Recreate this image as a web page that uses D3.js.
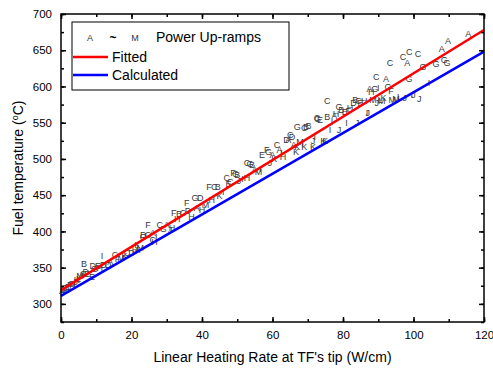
<!DOCTYPE html>
<html><head><meta charset="utf-8">
<script src="https://cdn.jsdelivr.net/npm/d3@7"></script>
<style>body{margin:0;background:#fff}svg{display:block;font-family:"Liberation Sans",Arial,sans-serif}</style>
</head><body><svg id="c" width="493" height="372"></svg>
<script>
const xTicks = [0,20,40,60,80,100,120];
const yTicks = [300,350,400,450,500,550,600,650,700];
const fitX = [0,120], fitY = [319,678];
const calcX = [0,120], calcY = [311,648];
const ptLetter = ["A","B","C","D","E","F","G","H","I","J","K","L","M","A","C","B","D","E","E","D","G","E","H","I","D","D","A","C","F","M","K","C","D","H","K","A","M","G","D","C","F","C","A","H","I","C","G","A","J","H","F","H","B","C","F","D","H","G","A","D","H","M","F","H","C","B","K","I","C","E","C","F","G","B","J","I","C","H","G","B","A","M","I","E","F","G","J","A","K","C","A","I","H","D","A","C","D","A","K","G","K","M","I","C","B","K","B","K","J","I","C","G","E","K","K","C","B","I","I","A","H","G","J","B","E","I","F","H","D","B","J","C","E","H","I","J","A","H","M","G","C","J","I","L","M","K","A","G","C","F","M","M","L","C","J","A","G","C","I","J","C","J","G","I","G","A","G","G","A","A"];
const ptX = [0.3,0.8,1.2,1.5,2,2.5,3,3.2,3.8,4.2,4.5,5,5.4,5.8,6.3,6.5,7,7.4,8.8,9,9.5,10.5,11,11.6,12,13.3,14,15.3,16,17,18,18.7,20,21,21.6,21.6,22.5,23.3,23.3,24.7,24.7,26,26,26.5,27,28,29,30,31,31.5,32,33,33.5,34.6,35.7,36,37,38,38.5,39.5,40,41,42,42.8,43.5,44.5,45,46,47,47.5,48,48.8,49.5,50,50.5,51.5,52.8,52.8,53.6,54.2,55,56,56.5,57,58.4,58.9,59.3,60,60.5,61.3,62,62.5,63,64,64.5,65,65.5,66,66.7,67,67,67.8,68.5,69,69.5,69,70.2,71.5,71.5,72,72.6,72.8,73.5,74.4,75,75.5,75.5,76.3,76.9,77.5,78,78.9,78.9,79.5,80.5,81,81.5,82,83,83.5,84,84.5,85,86,86.8,87,87.5,88,88.5,89,89.4,89.6,90,90.5,91,91.5,92.2,92.8,93.3,93.6,94,95,96,97,97.5,98.2,98.7,98.8,99.5,100,101.3,101.6,102.7,104.4,106.4,108,108.7,109.5,109.8,115.5];
const ptY = [318,320,322,319,324,326,328,325,330,331,333,335,338,340,342,355,344,341,337,352,349,353,350,366,354,354,358,367,362,364,366,370,370,375,381,374,378,392,395,395,409,388,398,386,392,409,404,409,402,405,425,418,424,425,439,428,420,446,432,446,430,436,461,443,461,461,449,455,474,466,468,481,480,478,470,472,494,474,493,492,485,482,487,505,512,510,494,506,500,519,512,508,503,526,527,533,530,520,510,544,517,523,521,543,544,517,545,517,525,530,557,556,554,525,525,580,558,540,551,560,562,572,540,568,565,550,567,570,578,582,550,580,577,580,563,563,597,592,582,597,613,577,598,582,580,584,610,599,632,594,582,583,585,641,584,632,610,648,588,588,645,583,627,605,631,652,637,632,663,672];

const svg = d3.select("#c");
const L=61, R=484, T=14, B=322;
const x = d3.scaleLinear().domain([0,120]).range([L,R]);
const y = d3.scaleLinear().domain([275,700]).range([B,T]);

// points
const pts = ptX.map((v,i)=>({x:v,y:ptY[i],l:ptLetter[i]}));
svg.append("g").selectAll("text").data(pts).join("text")
  .attr("x",d=>x(d.x)).attr("y",d=>y(d.y)).attr("dy","0.35em")
  .attr("text-anchor","middle").attr("font-size",9).attr("fill","#3a3a3a").text(d=>d.l);

// lines
const line = d3.line().x(d=>x(d[0])).y(d=>y(d[1]));
svg.append("path").datum(fitX.map((v,i)=>[v,fitY[i]])).attr("d",line).attr("stroke","#ff0000").attr("stroke-width",2.5).attr("fill","none");
svg.append("path").datum(calcX.map((v,i)=>[v,calcY[i]])).attr("d",line).attr("stroke","#0000ff").attr("stroke-width",2.5).attr("fill","none");

// axes
const minorX = d3.range(0,121,10), minorY = d3.range(275,701,25);
const ax = svg.append("g");
ax.append("g").attr("transform",`translate(0,${B})`).call(d3.axisBottom(x).tickValues(xTicks).tickSize(-5).tickPadding(9).tickFormat(d3.format("d")));
ax.append("g").attr("transform",`translate(0,${B})`).call(d3.axisBottom(x).tickValues(minorX).tickSize(-3).tickFormat(""));
ax.append("g").attr("transform",`translate(0,${T})`).call(d3.axisTop(x).tickValues(xTicks).tickSize(-5).tickFormat(""));
ax.append("g").attr("transform",`translate(0,${T})`).call(d3.axisTop(x).tickValues(minorX).tickSize(-3).tickFormat(""));
ax.append("g").attr("transform",`translate(${L},0)`).call(d3.axisLeft(y).tickValues(yTicks).tickSize(-5).tickPadding(9).tickFormat(d3.format("d")));
ax.append("g").attr("transform",`translate(${L},0)`).call(d3.axisLeft(y).tickValues(minorY).tickSize(-3).tickFormat(""));
ax.append("g").attr("transform",`translate(${R},0)`).call(d3.axisRight(y).tickValues(yTicks).tickSize(-5).tickFormat(""));
ax.append("g").attr("transform",`translate(${R},0)`).call(d3.axisRight(y).tickValues(minorY).tickSize(-3).tickFormat(""));
ax.selectAll(".domain").remove();
ax.selectAll("line").attr("stroke","#000").attr("stroke-width",1.5);
ax.selectAll("text").attr("font-size",11.5).attr("fill","#000").attr("font-family","Liberation Sans, Arial, sans-serif");
svg.append("rect").attr("x",L).attr("y",T).attr("width",R-L).attr("height",B-T).attr("fill","none").attr("stroke","#000").attr("stroke-width",1.5);

// axis titles
svg.append("text").attr("x",(L+R)/2).attr("y",362).attr("text-anchor","middle").attr("font-size",14).text("Linear Heating Rate at TF's tip (W/cm)");
const yl = svg.append("text").attr("transform","translate(23,168) rotate(-90)").attr("text-anchor","middle").attr("font-size",14);
yl.append("tspan").text("Fuel temperature (");
yl.append("tspan").attr("dy",-5).attr("font-size",9).text("o");
yl.append("tspan").attr("dy",5).text("C)");

// legend
const lg = svg.append("g");
lg.append("rect").attr("x",72).attr("y",22).attr("width",217).attr("height",68).attr("fill","#fff").attr("stroke","#000").attr("stroke-width",1);
lg.append("text").attr("x",90).attr("y",41).attr("text-anchor","middle").attr("font-size",9).attr("fill","#333").text("A");
lg.append("text").attr("x",113).attr("y",42).attr("text-anchor","middle").attr("font-size",12).attr("font-weight","bold").attr("fill","#000").text("~");
lg.append("text").attr("x",135).attr("y",41).attr("text-anchor","middle").attr("font-size",9).attr("fill","#333").text("M");
lg.append("text").attr("x",156).attr("y",42).attr("font-size",14).text("Power Up-ramps");
lg.append("line").attr("x1",73).attr("x2",108).attr("y1",57).attr("y2",57).attr("stroke","#ff0000").attr("stroke-width",2.5);
lg.append("text").attr("x",112).attr("y",62).attr("font-size",14).text("Fitted");
lg.append("line").attr("x1",73).attr("x2",108).attr("y1",75).attr("y2",75).attr("stroke","#0000ff").attr("stroke-width",2.5);
lg.append("text").attr("x",112).attr("y",80).attr("font-size",14).text("Calculated");
</script></body></html>
